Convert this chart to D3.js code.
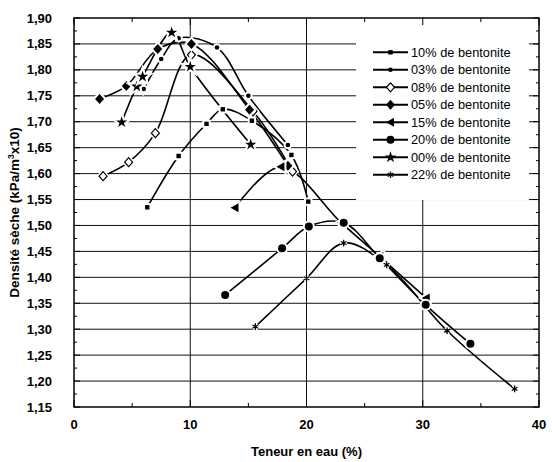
<!DOCTYPE html>
<html><head><meta charset="utf-8">
<script src="https://cdn.jsdelivr.net/npm/d3@7"></script>
<style>body{margin:0;background:#fff}svg{display:block}text{font-family:Arial,"Liberation Sans",sans-serif}</style>
</head><body><svg id="c" width="552" height="462"></svg>
<script>
// ---- data ----
const s10 = [[6.3,1.535],[9.0,1.634],[11.4,1.696],[12.8,1.724],[15.3,1.702],[18.7,1.636],[20.15,1.546]];
const s03 = [[6.0,1.763],[7.5,1.821],[9.0,1.861],[12.3,1.843],[15.0,1.75],[18.4,1.655]];
const s08 = [[2.5,1.595],[4.7,1.622],[7.0,1.678],[10.1,1.829],[15.4,1.72],[18.8,1.604]];
const s05 = [[2.2,1.744],[4.5,1.769],[7.2,1.840],[10.1,1.850],[15.1,1.723],[18.4,1.615]];
const s15 = [[13.85,1.534],[17.8,1.613],[23.0,1.505],[26.3,1.44],[30.3,1.36]];
const s20 = [[13.0,1.366],[17.9,1.456],[20.2,1.498],[23.2,1.505],[26.3,1.437],[30.25,1.347],[34.1,1.272]];
const s00 = [[4.1,1.699],[5.4,1.768],[5.9,1.787],[8.4,1.872],[10.0,1.806],[15.2,1.656]];
const s22 = [[15.6,1.305],[20.0,1.398],[23.2,1.466],[26.9,1.424],[32.1,1.297],[37.9,1.185]];
const seriesNames = ["10% de bentonite","03% de bentonite","08% de bentonite","05% de bentonite","15% de bentonite","20% de bentonite","00% de bentonite","22% de bentonite"];
const seriesData = [s10,s03,s08,s05,s15,s20,s00,s22];
const seriesMarkers = ["square","smallcircle","opendiamond","diamond","triangleleft","circle","star","asterisk"];
const xTicks = [0,10,20,30,40];
const yTicks = [1.15,1.20,1.25,1.30,1.35,1.40,1.45,1.50,1.55,1.60,1.65,1.70,1.75,1.80,1.85,1.90];
const xTitle = "Teneur en eau (%)";

// ---- layout ----
const svg = d3.select("#c");
const L=74, T=18, R=539, B=407;
const x = d3.scaleLinear().domain([0,40]).range([L,R]);
const y = d3.scaleLinear().domain([1.15,1.90]).range([B,T]);

// grid
const g = svg.append("g");
g.selectAll(".hg").data(yTicks.slice(1,-1)).join("line")
  .attr("x1",L).attr("x2",R).attr("y1",d=>y(d)).attr("y2",d=>y(d))
  .attr("stroke","#111").attr("stroke-width",1);
g.selectAll(".vg").data([10,20,30]).join("line")
  .attr("x1",d=>x(d)).attr("x2",d=>x(d)).attr("y1",T).attr("y2",B)
  .attr("stroke","#111").attr("stroke-width",1);

// legend background (hides grid)
svg.append("rect").attr("x",356).attr("y",T+1).attr("width",173).attr("height",181).attr("fill","#fff");

// axes ticks (inward)
const fmt = d => d3.format(".2f")(d).replace(".",",");
const yMinor = d3.range(0,31).map(i=>1.15+i*0.025);
const ax = svg.append("g").attr("stroke","#000");
yMinor.forEach((v,i)=>{
  const len = i%2===0?6:3;
  ax.append("line").attr("x1",L).attr("x2",L+len).attr("y1",y(v)).attr("y2",y(v));
  ax.append("line").attr("x1",R).attr("x2",R-len).attr("y1",y(v)).attr("y2",y(v));
});
d3.range(0,41,5).forEach((v,i)=>{
  const len = i%2===0?7:4;
  ax.append("line").attr("x1",x(v)).attr("x2",x(v)).attr("y1",B).attr("y2",B-len);
  ax.append("line").attr("x1",x(v)).attr("x2",x(v)).attr("y1",T).attr("y2",T+len);
});
svg.append("rect").attr("x",L).attr("y",T).attr("width",R-L).attr("height",B-T)
  .attr("fill","none").attr("stroke","#000").attr("stroke-width",1.5);

// tick labels
svg.selectAll(".yl").data(yTicks).join("text")
  .attr("x",L-22).attr("y",d=>y(d)+4.5).attr("text-anchor","end")
  .attr("font-size",13).attr("font-weight","bold").text(fmt);
svg.selectAll(".xl").data(xTicks).join("text")
  .attr("x",d=>x(d)).attr("y",B+22).attr("text-anchor","middle")
  .attr("font-size",13).attr("font-weight","bold").text(d=>d);

// titles
svg.append("text").attr("x",(L+R)/2).attr("y",456).attr("text-anchor","middle")
  .attr("font-size",13).attr("font-weight","bold").text(xTitle);
const yt = svg.append("text").attr("transform",`translate(19,${(T+B)/2}) rotate(-90)`)
  .attr("text-anchor","middle").attr("font-size",13.5).attr("font-weight","bold");
yt.append("tspan").text("Densité sèche (kPa/m");
yt.append("tspan").attr("font-size",8.5).attr("dy",-5).text("3");
yt.append("tspan").attr("dy",5).text("x10)");

// markers
function marker(sel, type, cx, cy, halo){
  const gg = sel.append("g").attr("transform",`translate(${cx},${cy})`);
  let m;
  switch(type){
    case "square": m = gg.append("rect").attr("x",-2.2).attr("y",-2.2).attr("width",4.4).attr("height",4.4).attr("fill","#000"); break;
    case "smallcircle": m = gg.append("circle").attr("r",2.3).attr("fill","#000"); break;
    case "opendiamond": m = gg.append("path").attr("d","M0,-4.5L4,0L0,4.5L-4,0Z").attr("fill","#fff").attr("stroke","#000").attr("stroke-width",1.2); break;
    case "diamond": m = gg.append("path").attr("d","M0,-5L4.5,0L0,5L-4.5,0Z").attr("fill","#000"); break;
    case "triangleleft": m = gg.append("path").attr("d","M-4.5,0L3.5,-4.5L3.5,4.5Z").attr("fill","#000"); break;
    case "circle": m = gg.append("circle").attr("r",4).attr("fill","#000"); break;
    case "star": m = gg.append("path").attr("d",d3.symbol(d3.symbolStar,40)()).attr("fill","#000"); break;
    case "asterisk": m = gg.append("path").attr("d",d3.symbol(d3.symbolAsterisk,30)()).attr("fill","none").attr("stroke","#000").attr("stroke-width",1.3); break;
  }
  if(halo){
    const c = m.node().cloneNode(true);
    d3.select(c).attr("fill","#fff").attr("stroke","#fff").attr("stroke-width",4);
    gg.node().insertBefore(c, m.node());
  }
}

// lines
const line = d3.line().x(d=>x(d[0])).y(d=>y(d[1])).curve(d3.curveCatmullRom.alpha(0.5));
const dg = svg.append("g");
seriesData.forEach((s,i)=>{
  dg.append("path").attr("d",line(s)).attr("fill","none").attr("stroke","#000").attr("stroke-width",1.6);
});
seriesData.forEach((s,i)=>{
  s.forEach(p=>marker(dg, seriesMarkers[i], x(p[0]), y(p[1]), true));
});

// legend
const lg = svg.append("g");
seriesNames.forEach((n,i)=>{
  const yy = 52.3 + i*17.5;
  lg.append("line").attr("x1",373).attr("x2",408).attr("y1",yy).attr("y2",yy).attr("stroke","#000").attr("stroke-width",2);
  marker(lg, seriesMarkers[i], 390.5, yy, false);
  lg.append("text").attr("x",411).attr("y",yy+4.5).attr("font-size",12.8).text(n);
});
</script></body></html>
